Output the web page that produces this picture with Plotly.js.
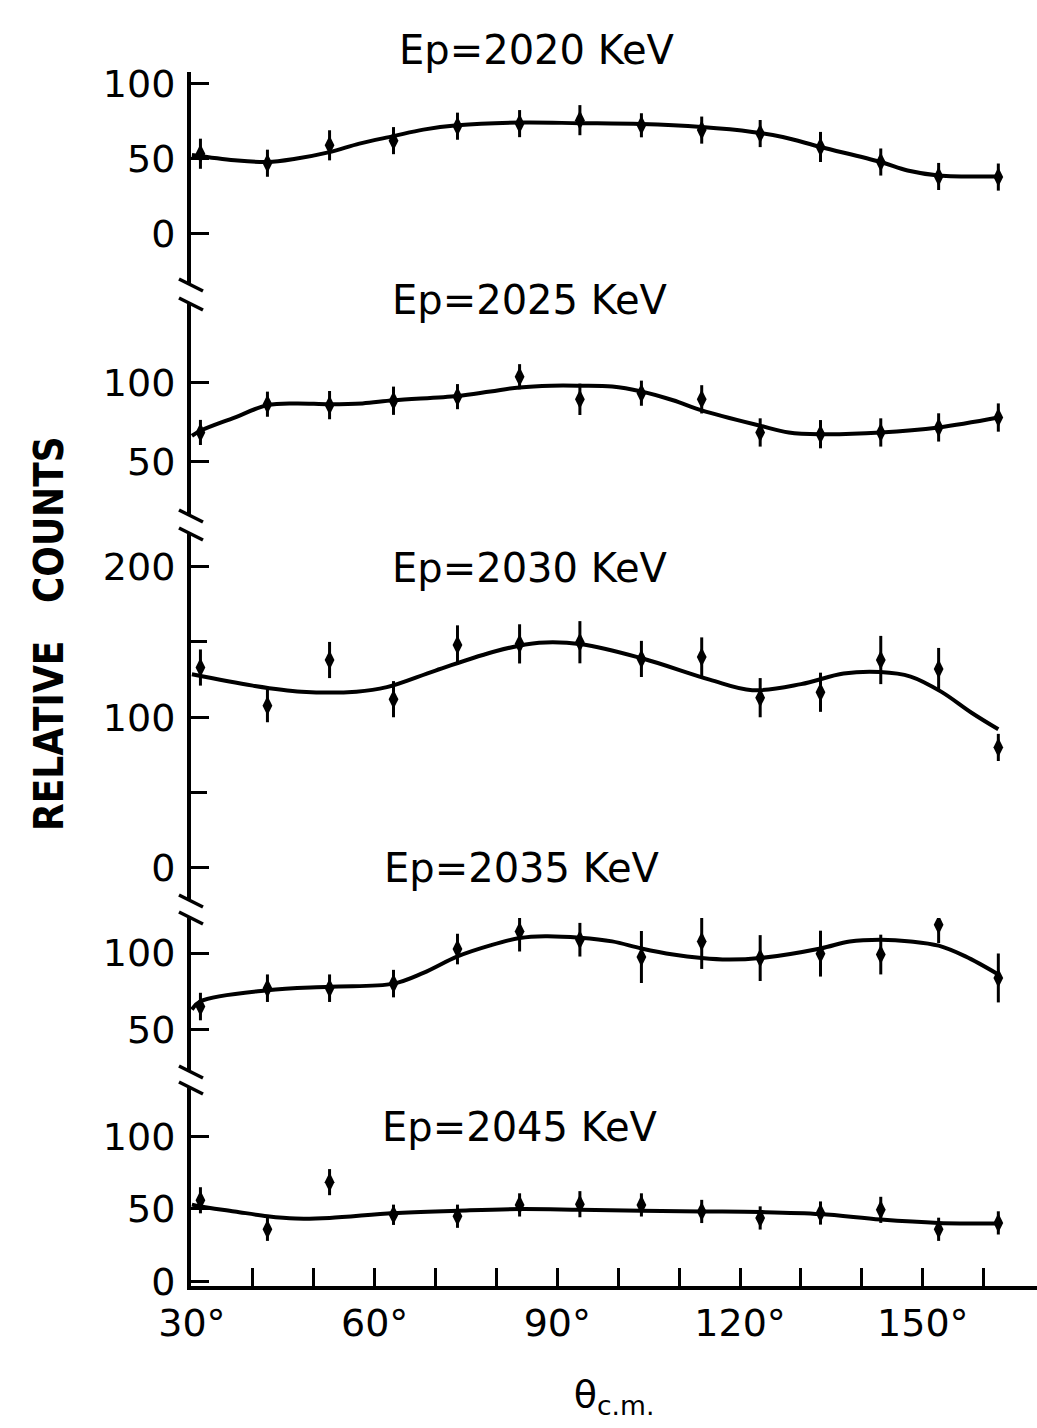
<!DOCTYPE html>
<html>
<head>
<meta charset="utf-8">
<script src="https://cdn.plot.ly/plotly-3.0.1.min.js"></script>
<style>html,body{margin:0;padding:0;background:#fff;}</style>
</head>
<body>
<div id="chart" style="width:1037px;height:1428px;"></div>
<script>
// ---- data ----
const angles = [31.4, 42.4, 52.6, 63.1, 73.6, 83.8, 93.7, 103.8, 113.7, 123.3, 133.2, 143.1, 152.6, 162.4];

const titles = ['Ep=2020 KeV', 'Ep=2025 KeV', 'Ep=2030 KeV', 'Ep=2035 KeV', 'Ep=2045 KeV'];

const counts2020 = [53.3, 47, 58.9, 62, 71.6, 73.3, 75.6, 72.2, 69, 66.7, 57.8, 47.8, 38.2, 37.8];
const err2020    = [10, 9, 10, 9, 9, 9, 10, 8, 9, 9, 10, 9, 9, 9];
const fitAngle2020 = [30, 37, 42.4, 47, 52.6, 57.5, 63.1, 68, 73.6, 83.8, 93.7, 103.8, 113.7, 122, 127, 133.2, 143.1, 147.5, 152.6, 162.4];
const fit2020      = [52.5, 49, 47.8, 50, 54.4, 60, 65, 69.3, 72.2, 74, 73.6, 73, 71, 67.8, 64.4, 57.8, 47.8, 42.2, 38.9, 38.2];

const counts2025 = [68.5, 86.5, 85.9, 88.7, 91.3, 104, 89.6, 93.5, 89.6, 68.5, 67.4, 68.5, 71.7, 78];
const err2025    = [8, 8, 9, 9, 8, 8, 10, 8, 9, 9, 9, 9, 9, 9];
const fitAngle2025 = [30, 31.4, 37, 42.4, 47, 52.6, 58, 63.1, 73.6, 79, 83.8, 89, 93.7, 99, 103.8, 109, 113.7, 123.3, 128, 133.2, 143.1, 152.6, 162.4];
const fit2025      = [66.3, 69.6, 78, 85.9, 87, 86.5, 87, 89, 91.7, 94.6, 97.2, 98.3, 98.3, 97.8, 94.6, 89, 82.6, 72.8, 68.5, 67.4, 68.5, 71.7, 78];

const counts2030 = [133, 107.7, 138, 112, 148, 148.7, 149.8, 138.7, 140, 113, 116.6, 138, 132, 80];
const err2030    = [12, 11, 12, 12, 13, 13, 14, 12, 13, 13, 13, 16, 14, 9];
const fitAngle2030 = [30, 40, 48, 57, 62, 70, 80, 87, 94, 104, 115, 122, 130, 137, 143, 148, 153, 158, 162.4];
const fit2030      = [128.5, 121, 117, 117, 120, 131, 144, 149.5, 148.5, 139, 125, 118, 122, 129, 130, 127, 117, 103, 92];

const counts2035 = [65, 77, 77, 80, 102.6, 114, 108.7, 97.4, 107.6, 96.7, 99.6, 99, 118.5, 83.7];
const err2035    = [9, 9, 9, 9, 10, 13, 11, 17, 18, 15, 15, 13, 12, 16];
const fitAngle2035 = [30, 31.4, 42.4, 52.6, 63.1, 68, 73.6, 79, 83.8, 88, 93.7, 99, 103.8, 109, 113.7, 118, 123.3, 133.2, 138, 143.1, 148, 152.6, 157, 162.4];
const fit2035      = [63, 68.5, 75.7, 78, 80, 87, 97.8, 105, 109.8, 111, 110, 107.6, 103, 99, 96.7, 95.7, 96.7, 103, 107.6, 108.7, 107.6, 104.8, 97.8, 86];

const counts2045 = [56, 36, 68.5, 46, 45, 52.8, 53.3, 52.8, 48.3, 43.8, 47.2, 49.4, 36, 40.4];
const err2045    = [9, 8, 9, 7, 8, 8, 9, 8, 8, 8, 8, 9, 8, 8];
const fitAngle2045 = [30, 31.4, 37, 42.4, 47, 52.6, 63.1, 73.6, 83.8, 93.7, 103.8, 113.7, 123.3, 133.2, 143.1, 152.6, 162.4];
const fit2045      = [53, 51.7, 48.3, 45, 43.4, 43.8, 47.2, 48.8, 49.9, 49.4, 48.8, 48.3, 47.9, 46.5, 42.7, 40.4, 40];

const xTickVals  = [30, 60, 90, 120, 150];
const xTickText  = ['30°', '60°', '90°', '120°', '150°'];
const xMinorVals = [40, 50, 70, 80, 100, 110, 130, 140, 160];

// ---- build ----
const panels = [
  {counts: counts2020, err: err2020, fa: fitAngle2020, fv: fit2020},
  {counts: counts2025, err: err2025, fa: fitAngle2025, fv: fit2025},
  {counts: counts2030, err: err2030, fa: fitAngle2030, fv: fit2030},
  {counts: counts2035, err: err2035, fa: fitAngle2035, fv: fit2035},
  {counts: counts2045, err: err2045, fa: fitAngle2045, fv: fit2045}
];

const W = 1037, H = 1428;
const mL = 191, mR = 0, mT = 72, mB = 142;
const pw = W - mL - mR, ph = H - mT - mB;
const px = x => (x - mL) / pw;
const py = y => (H - mB - y) / ph;

const traces = [];
panels.forEach((p, i) => {
  const ya = i === 0 ? 'y' : 'y' + (i + 1);
  traces.push({
    x: p.fa, y: p.fv, xaxis: 'x', yaxis: ya, type: 'scatter', mode: 'lines',
    line: {color: '#000', width: 4, shape: 'spline', smoothing: 1},
    hoverinfo: 'skip'
  });
  traces.push({
    x: angles, y: p.counts, xaxis: 'x', yaxis: ya, type: 'scatter', mode: 'markers',
    marker: {symbol: 'diamond-tall', size: 14, color: '#000'},
    error_y: {type: 'data', array: p.err, visible: true, color: '#000', thickness: 3, width: 0}
  });
});

const tickFont = {family: 'DejaVu Sans, sans-serif', size: 38, color: '#000'};
const yBase = {
  anchor: 'x', showline: true, linewidth: 4, linecolor: '#000',
  ticks: 'inside', ticklen: 18, tickwidth: 3, tickcolor: '#000',
  showgrid: false, zeroline: false, tickfont: tickFont, ticklabelstandoff: 4, fixedrange: true
};

// panel extents in pixels (top, bottom)
const ext = [[72, 285], [304, 516], [534, 901], [918, 1072], [1088, 1286]];
const yRanges = [[-33.9, 107.6], [15.3, 150.3], [-21.9, 221.6], [22.2, 122.9], [-3.1, 133.4]];
const yTicks = [
  {v: [0, 50, 100], t: ['0', '50', '100'], m: []},
  {v: [50, 100], t: ['50', '100'], m: []},
  {v: [0, 100, 200], t: ['0', '100', '200'], m: [50, 150]},
  {v: [50, 100], t: ['50', '100'], m: []},
  {v: [0, 50, 100], t: ['0', '50', '100'], m: []}
];

const layout = {
  width: W, height: H,
  margin: {l: mL, r: mR, t: mT, b: mB},
  paper_bgcolor: '#fff', plot_bgcolor: 'rgba(0,0,0,0)',
  showlegend: false,
  font: {family: 'DejaVu Sans, sans-serif', color: '#000'},
  xaxis: {
    range: [29.85, 168.75], anchor: 'y5', domain: [0, 1],
    tickmode: 'array', tickvals: xTickVals, ticktext: xTickText,
    ticks: 'inside', ticklen: 18, tickwidth: 3, tickcolor: '#000',
    minor: {tickmode: 'array', tickvals: xMinorVals, ticks: 'inside', ticklen: 18, tickwidth: 3, tickcolor: '#000', showgrid: false},
    showline: true, linewidth: 4, linecolor: '#000',
    showgrid: false, zeroline: false, tickfont: tickFont, fixedrange: true,
    title: {text: 'θ<sub>c.m.</sub>', font: {family: 'DejaVu Sans, sans-serif', size: 38, color: '#000'}, standoff: 38}
  },
  annotations: [],
  shapes: []
};

ext.forEach((e, i) => {
  const key = i === 0 ? 'yaxis' : 'yaxis' + (i + 1);
  const ax = Object.assign({}, yBase, {
    domain: [py(e[1]), py(e[0])],
    range: yRanges[i],
    tickmode: 'array', tickvals: yTicks[i].v, ticktext: yTicks[i].t
  });
  if (yTicks[i].m.length) {
    ax.minor = {tickmode: 'array', tickvals: yTicks[i].m, ticks: 'inside', ticklen: 16, tickwidth: 3, tickcolor: '#000', showgrid: false};
  }
  layout[key] = ax;
});

// panel titles
const titlePos = [[537, 50], [530, 300], [530, 568], [522, 868], [520, 1127]];
titles.forEach((t, i) => {
  layout.annotations.push({
    text: t, xref: 'paper', yref: 'paper',
    x: px(titlePos[i][0]), y: py(titlePos[i][1]),
    xanchor: 'center', yanchor: 'middle', showarrow: false,
    font: {family: 'DejaVu Sans, sans-serif', size: 40, color: '#000'}
  });
});

// y axis title
layout.annotations.push({
  text: 'RELATIVE\u00a0\u00a0\u00a0COUNTS', xref: 'paper', yref: 'paper',
  x: px(49), y: py(634), textangle: -90, showarrow: false,
  xanchor: 'center', yanchor: 'middle',
  font: {family: 'Liberation Sans Narrow, DejaVu Sans Condensed, sans-serif', size: 40, weight: 'bold', color: '#000'}
});

// axis break marks
const breaks = [285, 304, 516, 534, 901, 918, 1072, 1088];
breaks.forEach(c => {
  layout.shapes.push({
    type: 'line', xref: 'paper', yref: 'paper',
    x0: px(179), y0: py(c - 6), x1: px(203), y1: py(c + 6),
    line: {color: '#000', width: 3.5}
  });
});

Plotly.newPlot('chart', traces, layout, {displayModeBar: false, staticPlot: true});
</script>
</body>
</html>
